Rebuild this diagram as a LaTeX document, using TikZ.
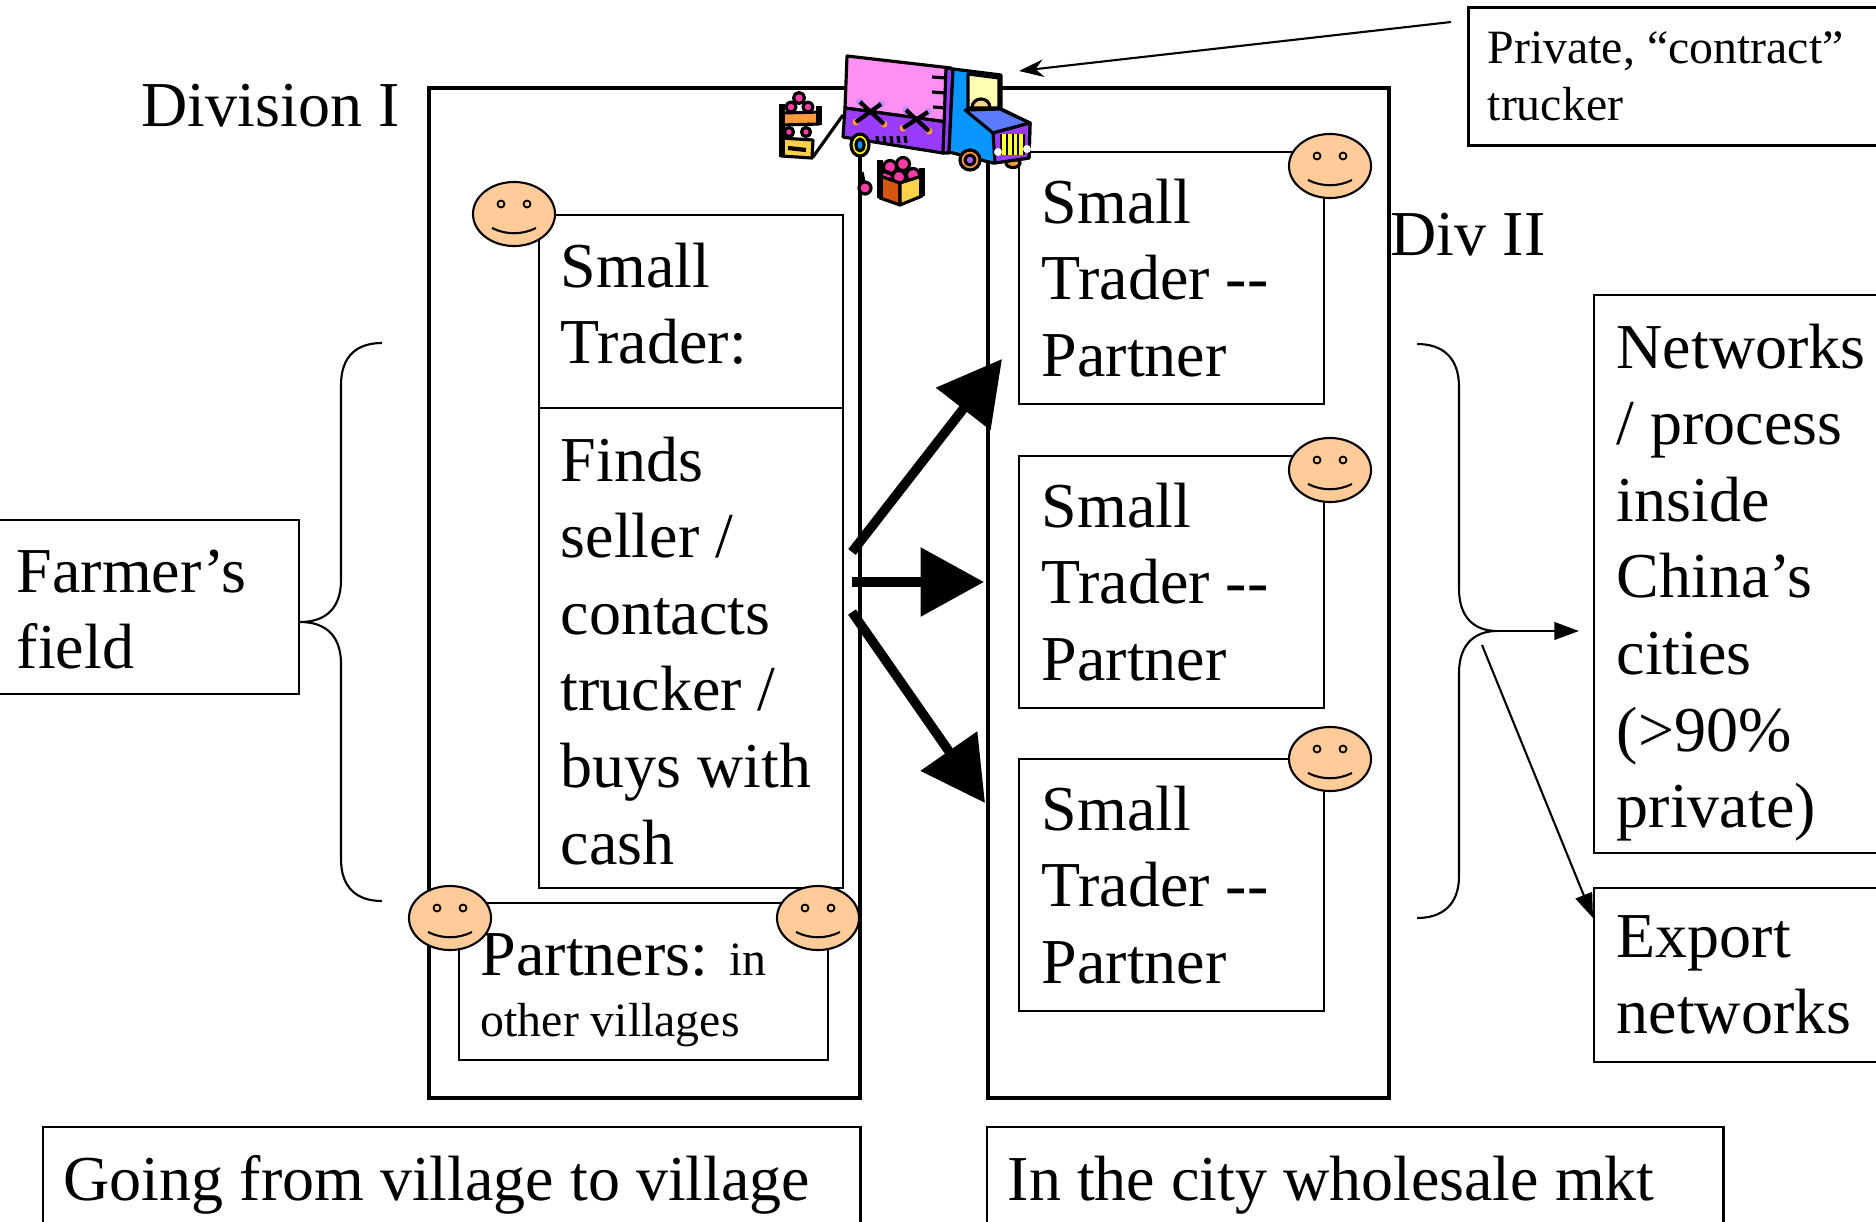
\documentclass[tikz,border=0pt]{standalone}
\usepackage{fontspec}
\setmainfont{Liberation Serif}
\usetikzlibrary{arrows.meta}
\definecolor{skin}{HTML}{FFCC99}
\definecolor{cargopink}{HTML}{FF8FF2}
\definecolor{cargopurple}{HTML}{9A3CFF}
\definecolor{cabblue}{HTML}{0A96FF}
\definecolor{hoodblue}{HTML}{5C7CFF}
\definecolor{paleyellow}{HTML}{FFFFB4}
\definecolor{grillyellow}{HTML}{FFFF33}
\definecolor{crateorange}{HTML}{FF9A3C}
\definecolor{crateyellow}{HTML}{FFD24A}
\definecolor{craterust}{HTML}{D4560E}
\definecolor{fruitpink}{HTML}{FF3CA8}
\definecolor{lilac}{HTML}{C08CFF}
\newcommand{\bigfont}{\fontsize{18.2}{21.8}\selectfont}
\newcommand{\smallfont}{\fontsize{13.6}{16}\selectfont}

\begin{document}
\begin{tikzpicture}[x=0.01cm, y=-0.01cm,
  txt/.style={anchor=base west, inner sep=0pt, align=left, text width=8cm, font=\bigfont,
    execute at begin node={\spaceskip=0pt\xspaceskip=0pt\relax}},
  frame/.style={draw, line width=1.15pt, inner sep=0pt, anchor=north west},
  panel/.style={draw, line width=0.6pt, inner sep=0pt, anchor=north west, fill=white},
  brace/.style={line width=0.6pt},
  thinarrow/.style={line width=0.6pt, -{Triangle[length=7pt,width=5pt]}},
  pointer/.style={line width=0.6pt, -{Stealth[length=7pt,width=5pt]}},
  bigarrow/.style={line width=2.7pt, -{Triangle[length=18pt,width=19pt]}},
  outline/.style={draw=black, line width=0.9pt, line join=round},
  smiley/.pic={
    \draw[line width=0.6pt, fill=skin] (0,0) ellipse [x radius=0.41cm, y radius=0.32cm];
    \draw[line width=0.5pt, fill=skin] (-13,-10) circle [radius=0.035cm] (13,-10) circle [radius=0.035cm];
    \draw[line width=0.6pt] (-22,14) .. controls (-8,21) and (8,21) .. (22,14);
  }
]
\useasboundingbox (0,0) rectangle (1876,1221);
\clip (0,0) rectangle (1876,1221);

% ---------- the two market divisions ----------
\node[frame, minimum width=4.31cm, minimum height=10.09cm] (divI) at (427,86) {};
\node[frame, minimum width=4.01cm, minimum height=10.09cm] (divII) at (986,86) {};
\node[txt] (divIlbl) at (141,126) {Division I};
\node[txt] (divIIlbl) at (1390,255) {Div II};

% ---------- Division I: village trader ----------
\node[panel, minimum width=3.04cm, minimum height=1.93cm] (trader) at (538,214) {};
\node[panel, minimum width=3.04cm, minimum height=4.80cm] (finds) at (538,407) {};
\node[panel, minimum width=3.69cm, minimum height=1.57cm] (partners) at (458,902) {};
\node[txt] (tradertxt) at (560,287) {Small\\Trader:};
\node[txt] (findstxt) at (560,481) {Finds\\seller /\\contacts\\trucker /\\buys with\\cash};
\node[txt] (partnerstxt) at (480,975) {Partners: {\smallfont in}\\[-4.3pt]\smallfont other villages};

% ---------- Division II: wholesale partners ----------
\node[panel, minimum width=3.05cm, minimum height=2.52cm] (pa) at (1018,151) {};
\node[panel, minimum width=3.05cm, minimum height=2.52cm] (pb) at (1018,455) {};
\node[panel, minimum width=3.05cm, minimum height=2.52cm] (pc) at (1018,758) {};
\node[txt] (patxt) at (1041,223) {Small\\Trader -{}-\\Partner};
\node[txt] (pbtxt) at (1041,527) {Small\\Trader -{}-\\Partner};
\node[txt] (pctxt) at (1041,830) {Small\\Trader -{}-\\Partner};

% ---------- outside boxes ----------
\node[panel, minimum width=3.18cm, minimum height=1.74cm] (farmer) at (-20,519) {};
\node[txt] (farmertxt) at (16,592) {Farmer’s\\field};
\node[panel, minimum width=3.07cm, minimum height=5.58cm] (net) at (1593,294) {};
\node[txt] (nettxt) at (1616,368) {Networks\\/ process\\inside\\China’s\\cities\\(>90\%\\private)};
\node[panel, minimum width=3.07cm, minimum height=1.74cm] (export) at (1593,887) {};
\node[txt] (exporttxt) at (1616,957) {Export\\networks};
\node[panel, line width=0.8pt, minimum width=4.33cm, minimum height=1.38cm] (trucker) at (1467,6) {};
\node[txt, font=\smallfont] (truckertxt) at (1487,64) {Private, “contract”\\trucker};
\node[panel, minimum width=8.17cm, minimum height=1.30cm] (village) at (42,1126) {};
\node[txt] (villagetxt) at (63,1200) {Going from village to village};
\node[panel, minimum width=7.36cm, minimum height=1.30cm] (city) at (986,1126) {};
\node[txt] (citytxt) at (1007,1200) {In the city wholesale mkt};

% ---------- traders ----------
\pic (s1) at (514,214) {smiley};
\pic (s2) at (450,918) {smiley};
\pic (s3) at (818,918) {smiley};
\pic (s4) at (1330,166) {smiley};
\pic (s5) at (1330,470) {smiley};
\pic (s6) at (1330,759) {smiley};

% ---------- braces ----------
\coordinate (lbtip) at (300,622);
\draw[brace] (382,343) .. controls (357,343) and (341,356) .. (341,385) -- (341,580)
  .. controls (341,608) and (326,622) .. (lbtip)
  .. controls (326,622) and (341,636) .. (341,664) -- (341,859)
  .. controls (341,888) and (357,901) .. (382,901);
\coordinate (rbtip) at (1497,631);
\draw[brace] (1417,344) .. controls (1442,344) and (1459,357) .. (1459,387) -- (1459,589)
  .. controls (1459,617) and (1474,631) .. (rbtip)
  .. controls (1474,631) and (1459,645) .. (1459,673) -- (1459,876)
  .. controls (1459,905) and (1442,918) .. (1417,918);

% ---------- flows ----------
\coordinate (netin) at (1579,631);
\coordinate (rbfoot) at (1482,645);
\coordinate (exportin) at (1593,918);
\draw[thinarrow] (rbtip) -- (netin);
\draw[thinarrow] (rbfoot) -- (exportin);

\coordinate (outA) at (852,552);
\coordinate (outB) at (852,582);
\coordinate (outC) at (852,612);
\coordinate (inA) at (1002,359);
\coordinate (inB) at (984,582);
\coordinate (inC) at (985,803);
\draw[bigarrow] (outA) -- (inA);
\draw[bigarrow] (outB) -- (inB);
\draw[bigarrow] (outC) -- (inC);

\coordinate (truckerfrom) at (1451,22);
\coordinate (truckpt) at (1019,71);
\draw[pointer] (truckerfrom) -- (truckpt);

% ---------- contract truck with produce crates ----------
\begin{scope}[outline]
  % strap from crate to truck
  \draw (813,157) -- (843,115);
  % left crate stack
  \filldraw[fill=fruitpink] (799,98) circle (0.055cm) (791,107) circle (0.05cm) (808,107) circle (0.05cm);
  \filldraw[fill=crateorange] (782,113) -- (819,112) -- (819,124) -- (782,125) -- cycle;
  \filldraw[fill=fruitpink] (789,132) circle (0.045cm) (806,132) circle (0.045cm);
  \filldraw[fill=crateyellow] (781,138) -- (813,140) -- (812,158) -- (781,156) -- cycle;
  \draw[line width=1.2pt] (788,148) -- (806,150);
  \draw[line width=1.5pt] (782,104) -- (782,157) (819,106) -- (819,125);
  % wheels behind the body
  \filldraw[fill=crateorange] (1013,163) ellipse [x radius=0.07cm, y radius=0.045cm];
  % cargo body
  \filldraw[fill=cargopink] (847,56) -- (951,68) -- (947,122) -- (845,108) -- cycle;
  \filldraw[fill=cargopurple] (845,108) -- (947,122) -- (943,153) -- (843,137) -- cycle;
  \filldraw[fill=cargopurple] (946,68) -- (953,69) -- (949,153) -- (943,153) -- cycle;
  \draw (932,77) -- (946,78) (932,92) -- (946,93) (933,107) -- (946,108);
  \foreach \hx in {877,884,891,898,905} \draw (\hx,136) -- (\hx+1,143);
  % ropes
  \fill[lilac] (860,102) circle (0.04cm) (881,104) circle (0.04cm) (906,110) circle (0.04cm) (928,112) circle (0.04cm);
  \fill[crateorange] (856,122) circle (0.035cm) (884,124) circle (0.035cm) (903,128) circle (0.035cm) (929,131) circle (0.035cm);
  \draw[line width=1.2pt] (860,102) -- (884,124) (881,104) -- (856,122)
                          (906,110) -- (929,131) (928,112) -- (903,128);
  % cab
  \filldraw[fill=cabblue] (953,69) -- (1001,75) -- (1001,109) -- (1030,123) -- (1029,158) -- (993,163) -- (949,152) -- cycle;
  \filldraw[fill=paleyellow] (968,74) -- (999,78) -- (999,108) -- (968,108) -- cycle;
  \filldraw[fill=paleyellow!60!crateorange] (972,108) .. controls (972,96) and (990,96) .. (990,108) -- cycle;
  \filldraw[fill=hoodblue] (965,110) -- (1000,109) -- (1030,123) -- (993,133) -- cycle;
  \filldraw[fill=cargopurple] (993,133) -- (1030,123) -- (1029,158) -- (995,163) -- cycle;
  \foreach \gx in {1004,1010,1016,1021} {
    \draw[line width=2.2pt] (\gx,134) -- (\gx,155);
    \draw[grillyellow, line width=1.1pt] (\gx,134) -- (\gx,155);
  }
  \fill[white] (998,152) circle (0.04cm) (1027,149) circle (0.04cm);
  % front wheels
  \filldraw[fill=crateorange] (970,160) circle (0.1cm);
  \filldraw[fill=lilac!50!cargopurple] (970,160) circle (0.05cm);
  \filldraw[fill=yellow] (860,145) ellipse [x radius=0.09cm, y radius=0.11cm];
  \filldraw[fill=cabblue] (860,145) ellipse [x radius=0.04cm, y radius=0.06cm];
  % crate on the ground
  \filldraw[fill=fruitpink] (886,178) circle (0.065cm) (890,167) circle (0.065cm) (903,164) circle (0.065cm) (913,175) circle (0.065cm) (899,177) circle (0.065cm);
  \filldraw[fill=craterust] (880,176) -- (900,183) -- (900,205) -- (880,198) -- cycle;
  \filldraw[fill=crateyellow] (900,183) -- (922,176) -- (922,196) -- (900,205) -- cycle;
  \draw[line width=1.5pt] (880,160) -- (880,198) (922,168) -- (922,196);
  % loose fruit
  \draw (862,172) -- (864,182);
  \filldraw[fill=fruitpink] (865,188) circle (0.06cm);
\end{scope}
\end{tikzpicture}
\end{document}
